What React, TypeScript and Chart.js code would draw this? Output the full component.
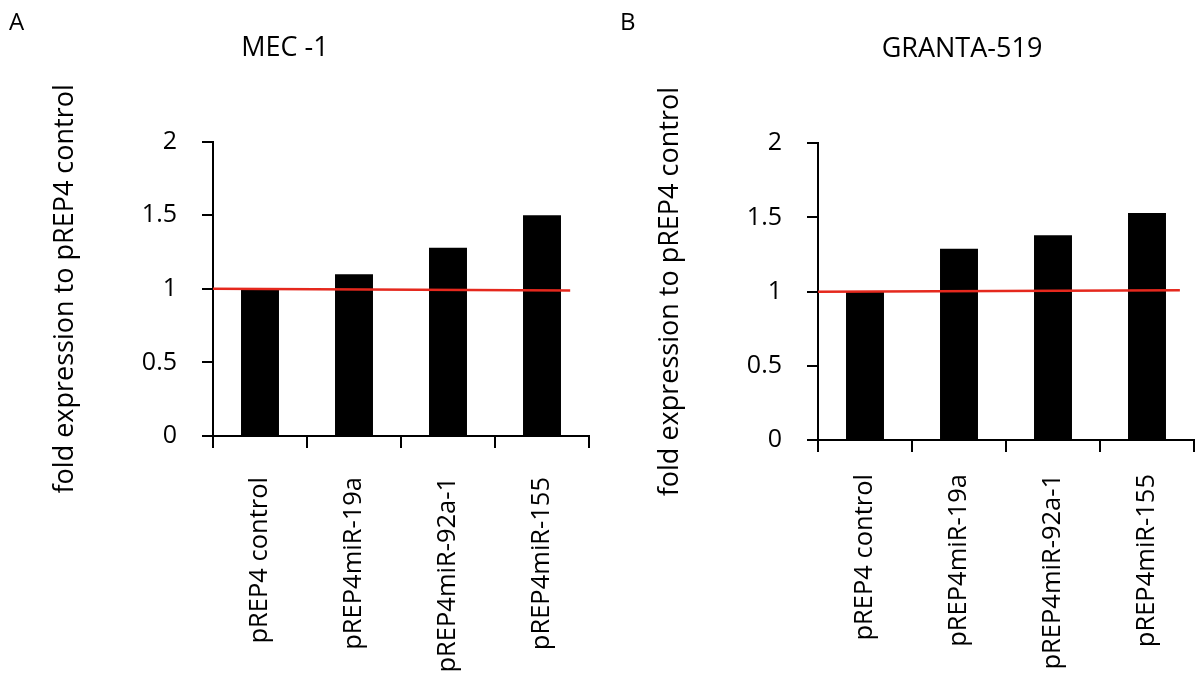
import React, { useEffect, useRef } from 'react';
import { Chart, registerables } from 'chart.js';

Chart.register(...registerables);

const categories = ['pREP4 control', 'pREP4miR-19a', 'pREP4miR-92a-1', 'pREP4miR-155'];
const mecValues = [1.0, 1.1, 1.28, 1.5];
const grantaValues = [1.0, 1.29, 1.38, 1.53];
const mecRefLineX = [-0.5, 3.3];
const mecRefLineY = [1.0, 0.988];
const grantaRefLineX = [-0.5, 3.35];
const grantaRefLineY = [1.0, 1.01];
const yTickValues = [0, 0.5, 1, 1.5, 2];
const yAxisTitle = 'fold expression to pREP4 control';
const panelLetters = ['A', 'B'];
const panelTitles = ['MEC -1', 'GRANTA-519'];

const FONT = "'Open Sans', 'Noto Sans', sans-serif";
const RED = '#e5281d';

type PanelProps = {
  values: number[];
  lineX: number[];
  lineY: number[];
  canvasLeft: number;
  canvasWidth: number;
  padTop: number;
  padRight: number;
  xAxisHeight: number;
  xLabelPad: number;
};

function Panel(p: PanelProps) {
  const ref = useRef<HTMLCanvasElement | null>(null);
  useEffect(() => {
    if (!ref.current) return;
    const chart = new Chart(ref.current, {
      type: 'bar',
      data: {
        labels: categories,
        datasets: [
          {
            type: 'line',
            data: p.lineX.map((x, i) => ({ x, y: p.lineY[i] })),
            xAxisID: 'x2',
            yAxisID: 'y',
            borderColor: RED,
            borderWidth: 2.5,
            pointRadius: 0,
            fill: false,
            order: 0,
          } as any,
          {
            type: 'bar',
            data: p.values,
            xAxisID: 'x',
            yAxisID: 'y',
            backgroundColor: '#000',
            borderWidth: 0,
            grouped: false,
            categoryPercentage: 1,
            barPercentage: 0.404,
            order: 1,
          },
        ],
      },
      options: {
        responsive: false,
        animation: false,
        devicePixelRatio: 1,
        layout: { padding: { left: 0, right: p.padRight, top: p.padTop, bottom: 0 } },
        plugins: { legend: { display: false }, tooltip: { enabled: false }, title: { display: false } },
        scales: {
          x: {
            type: 'category',
            offset: true,
            afterFit: (s: any) => {
              s.height = p.xAxisHeight;
              s.paddingLeft = 0;
              s.paddingRight = 0;
            },
            grid: {
              offset: true,
              drawOnChartArea: false,
              drawTicks: true,
              tickLength: 12,
              color: '#000',
              lineWidth: 2,
            },
            border: { display: true, color: '#000', width: 2 },
            ticks: {
              minRotation: 90,
              maxRotation: 90,
              autoSkip: false,
              padding: p.xLabelPad,
              color: '#000',
              font: { family: FONT, size: 25.5 },
            },
          },
          x2: {
            type: 'linear',
            display: false,
            offset: false,
            min: -0.5,
            max: 3.5,
          },
          y: {
            type: 'linear',
            min: 0,
            max: 2,
            afterFit: (s: any) => {
              s.width = 213;
            },
            afterBuildTicks: (s: any) => {
              s.ticks = yTickValues.map((v) => ({ value: v }));
            },
            grid: {
              drawOnChartArea: false,
              drawTicks: true,
              tickLength: 11,
              color: '#000',
              lineWidth: 2,
            },
            border: { display: true, color: '#000', width: 2 },
            ticks: {
              padding: 25,
              color: '#000',
              font: { family: FONT, size: 25 },
              callback: (v: any) => String(v),
            },
            title: {
              display: true,
              text: yAxisTitle,
              color: '#000',
              font: { family: FONT, size: 27 },
              padding: { top: 48.8, bottom: 0 },
            },
          },
        },
      },
    });
    return () => chart.destroy();
  }, []);
  return (
    <canvas
      ref={ref}
      width={p.canvasWidth}
      height={680}
      style={{ position: 'absolute', left: p.canvasLeft, top: 0, width: p.canvasWidth, height: 680 }}
    />
  );
}

const textStyle: React.CSSProperties = {
  position: 'absolute',
  fontFamily: FONT,
  color: '#000',
  lineHeight: 1,
  whiteSpace: 'nowrap',
};

export default function App() {
  return (
    <div style={{ position: 'absolute', left: 0, top: 0, width: 1196, height: 680, background: '#fff', overflow: 'hidden' }}>
      <Panel
        values={mecValues}
        lineX={mecRefLineX}
        lineY={mecRefLineY}
        canvasLeft={0}
        canvasWidth={598}
        padTop={141.7}
        padRight={9}
        xAxisHeight={244}
        xLabelPad={29}
      />
      <Panel
        values={grantaValues}
        lineX={grantaRefLineX}
        lineY={grantaRefLineY}
        canvasLeft={605}
        canvasWidth={591}
        padTop={143.3}
        padRight={2}
        xAxisHeight={240}
        xLabelPad={22}
      />
      <div style={{ ...textStyle, left: 9, top: 9, fontSize: 24 }}>{panelLetters[0]}</div>
      <div style={{ ...textStyle, left: 620, top: 9, fontSize: 24 }}>{panelLetters[1]}</div>
      <div style={{ ...textStyle, left: 185, width: 200, textAlign: 'center', top: 32, fontSize: 27 }}>{panelTitles[0]}</div>
      <div style={{ ...textStyle, left: 862, width: 200, textAlign: 'center', top: 33, fontSize: 27 }}>{panelTitles[1]}</div>
    </div>
  );
}
